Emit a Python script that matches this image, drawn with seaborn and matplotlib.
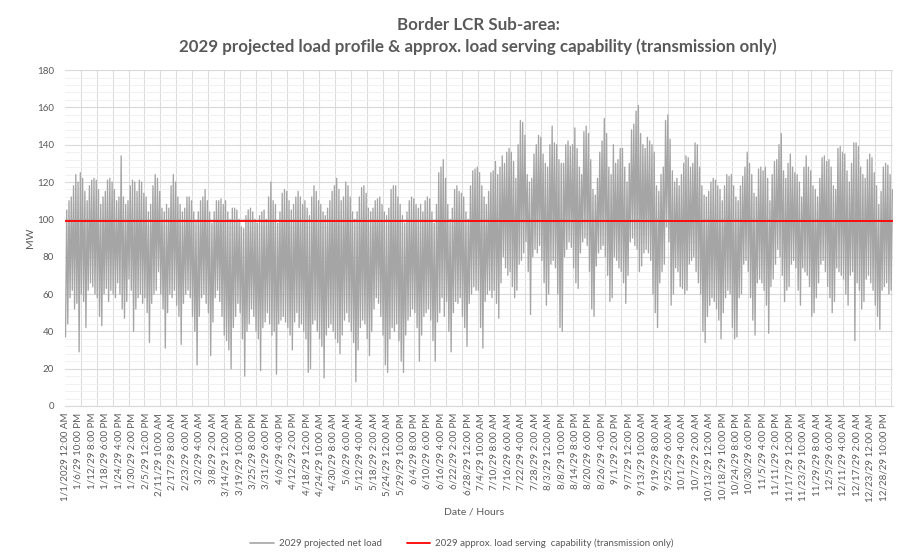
import pandas as pd
import seaborn as sns
import matplotlib.pyplot as plt
from matplotlib.ticker import MultipleLocator
from matplotlib.lines import Line2D

# daily low / high of the 2029 net load (MW), day 1 .. day 365
daily_low = [
    37, 44, 58, 62, 52, 55, 29, 60, 56, 42, 62, 66, 64, 60, 58, 48, 43, 60, 63, 56,
    62, 60, 58, 66, 60, 52, 47, 56, 68, 62, 40, 52, 58, 60, 55,
    58, 50, 34, 55, 60, 62, 72, 60, 52, 31, 50, 60, 58, 62, 54, 48, 33, 55, 60, 62,
    58, 48, 40, 22, 48, 58, 60, 55, 50, 27, 45, 58, 62, 56, 48, 38,
    35, 30, 20, 42, 48, 55, 50, 36, 16, 40, 44, 52, 48, 40, 36, 19, 42, 45, 50, 44,
    38, 40, 17, 44, 46, 48, 45, 42, 38, 30, 45, 50, 42, 44, 40, 36, 18,
    20, 44, 46, 40, 36, 32, 15, 38, 42, 44, 40, 36, 34, 28, 38, 46, 50, 45, 40, 34,
    13, 30, 42, 46, 44, 36, 27, 40, 52, 58, 55, 48, 38, 22, 18, 36, 42,
    40, 44, 35, 24, 18, 38, 46, 48, 52, 50, 42, 24, 38, 48, 50, 52, 46, 35, 24, 45,
    50, 58, 48, 56, 40, 29, 50, 56, 55, 58, 48, 42, 32, 55, 60, 64, 62,
    62, 42, 31, 56, 60, 62, 58, 62, 55, 47, 66, 80, 74, 70, 72, 64, 58, 62, 76, 78,
    82, 88, 72, 49, 80, 84, 82, 86, 78, 66, 54, 60, 76, 78, 74, 60, 42,
    40, 80, 84, 88, 85, 74, 66, 63, 82, 88, 90, 86, 72, 52, 48, 75, 82, 84, 86, 80,
    70, 56, 58, 80, 78, 74, 72, 66, 55, 70, 88, 90, 86, 84, 72, 75, 82,
    84, 82, 78, 60, 50, 42, 66, 72, 76, 96, 88, 54, 60, 74, 72, 64, 63, 60, 62, 76,
    78, 80, 72, 66, 60, 40, 34, 48, 54, 58, 56, 52, 46, 36, 50, 58, 62,
    60, 42, 36, 37, 58, 60, 76, 78, 72, 58, 46, 38, 66, 68, 66, 62, 54, 39, 64, 68,
    76, 84, 80, 70, 56, 62, 64, 76, 78, 74, 62, 54, 74, 72, 70, 64, 48,
    50, 58, 66, 76, 78, 72, 64, 58, 50, 56, 74, 72, 70, 68, 60, 54, 70, 72, 35, 66,
    62, 52, 56, 68, 70, 66, 62, 54, 48, 41, 62, 64, 66, 60, 62,
]
daily_high = [
    105, 110, 112, 118, 124, 120, 125, 122, 115, 110, 118, 121, 122, 121, 116, 108, 112, 115, 121, 122,
    120, 116, 110, 112, 134, 112, 108, 110, 118, 121, 120, 115, 121, 120, 114,
    112, 104, 108, 118, 124, 122, 115, 106, 104, 108, 106, 118, 124, 120, 112, 108, 104, 106, 112, 112,
    110, 104, 99, 104, 110, 112, 116, 110, 104, 98, 104, 110, 110, 111, 108, 110,
    104, 100, 106, 106, 105, 100, 96, 95, 102, 105, 106, 104, 100, 98, 102, 104, 105, 100, 112, 120,
    110, 108, 98, 104, 114, 116, 115, 110, 105, 108, 112, 115, 112, 108, 110, 106, 102,
    112, 118, 115, 110, 108, 104, 102, 106, 110, 115, 118, 122, 116, 110, 112, 120, 118, 112, 104, 100,
    104, 112, 117, 118, 114, 106, 104, 106, 110, 111, 112, 108, 104, 102, 106, 116, 118,
    118, 112, 108, 102, 98, 104, 110, 112, 111, 108, 106, 108, 104, 110, 112, 111, 104, 98, 108, 125,
    128, 132, 122, 108, 100, 106, 116, 118, 115, 114, 112, 104, 100, 118, 126, 127, 128,
    125, 118, 112, 108, 115, 125, 126, 131, 124, 128, 134, 130, 136, 138, 136, 131, 122, 140, 153, 152,
    145, 124, 120, 122, 135, 140, 145, 144, 135, 130, 128, 140, 150, 141, 140, 132, 130,
    130, 140, 142, 139, 140, 149, 138, 128, 124, 147, 150, 146, 132, 116, 113, 122, 136, 142, 154, 146,
    128, 124, 140, 130, 132, 138, 138, 128, 120, 130, 148, 151, 158, 161, 146, 140, 138,
    144, 142, 140, 136, 118, 115, 124, 128, 153, 156, 143, 126, 120, 122, 118, 124, 130, 134, 133, 128,
    130, 141, 140, 128, 118, 113, 112, 115, 120, 122, 121, 118, 116, 110, 118, 124, 123,
    124, 118, 112, 110, 118, 123, 128, 136, 130, 124, 114, 112, 127, 128, 126, 128, 122, 110, 124, 131,
    132, 140, 146, 126, 122, 130, 135, 128, 125, 124, 120, 112, 128, 134, 128, 126, 118,
    116, 112, 122, 133, 134, 131, 132, 128, 118, 116, 138, 139, 136, 135, 126, 120, 130, 141, 141, 139,
    128, 124, 122, 132, 135, 133, 125, 118, 108, 115, 128, 130, 129, 124, 116,
]
capability_mw = 99

tick_labels = [
    "1/1/2029 12:00 AM", "1/6/29 10:00 PM", "1/12/29 8:00 PM", "1/18/29 6:00 PM",
    "1/24/29 4:00 PM", "1/30/29 2:00 PM", "2/5/29 12:00 PM", "2/11/29 10:00 AM",
    "2/17/29 8:00 AM", "2/23/29 6:00 AM", "3/2/29 4:00 AM", "3/8/29 2:00 AM",
    "3/14/29 12:00 AM", "3/19/29 10:00 PM", "3/25/29 8:00 PM", "3/31/29 6:00 PM",
    "4/6/29 4:00 PM", "4/12/29 2:00 PM", "4/18/29 12:00 PM", "4/24/29 10:00 AM",
    "4/30/29 8:00 AM", "5/6/29 6:00 AM", "5/12/29 4:00 AM", "5/18/29 2:00 AM",
    "5/24/29 12:00 AM", "5/29/29 10:00 PM", "6/4/29 8:00 PM", "6/10/29 6:00 PM",
    "6/16/29 4:00 PM", "6/22/29 2:00 PM", "6/28/29 12:00 PM", "7/4/29 10:00 AM",
    "7/10/29 8:00 AM", "7/16/29 6:00 AM", "7/22/29 4:00 AM", "7/28/29 2:00 AM",
    "8/3/29 12:00 AM", "8/8/29 10:00 PM", "8/14/29 8:00 PM", "8/20/29 6:00 PM",
    "8/26/29 4:00 PM", "9/1/29 2:00 PM", "9/7/29 12:00 PM", "9/13/29 10:00 AM",
    "9/19/29 8:00 AM", "9/25/29 6:00 AM", "10/1/29 4:00 AM", "10/7/29 2:00 AM",
    "10/13/29 12:00 AM", "10/18/29 10:00 PM", "10/24/29 8:00 PM", "10/30/29 6:00 PM",
    "11/5/29 4:00 PM", "11/11/29 2:00 PM", "11/17/29 12:00 PM", "11/23/29 10:00 AM",
    "11/29/29 8:00 AM", "12/5/29 6:00 AM", "12/11/29 4:00 AM", "12/17/29 2:00 AM",
    "12/23/29 12:00 AM", "12/28/29 10:00 PM",
]
label_step = 142   # hours between category labels
grid_step = 168    # hours between vertical gridlines
n_hours = 8760

# one low (early morning) and one high (evening) point per day
rows = []
for d, (lo, hi) in enumerate(zip(daily_low, daily_high)):
    rows.append((d * 24 + 5, lo))
    rows.append((d * 24 + 18, hi))
df = pd.DataFrame(rows, columns=["hour", "load"])

sns.set_style("white")
plt.rcParams["font.family"] = ["Lato", "DejaVu Sans"]
txt = "#595959"

fig = plt.figure(figsize=(8.97, 5.56), dpi=100)
ax = fig.add_axes([0.0725, 0.2698, 0.923, 0.6042])

sns.lineplot(data=df, x="hour", y="load", color="#A5A5A5", linewidth=0.95,
             estimator=None, sort=True, ax=ax, zorder=3)
ax.axhline(capability_mw, color="#FF0000", linewidth=1.3, zorder=4)

ax.set_xlim(0, n_hours)
ax.set_ylim(0, 180)
ax.yaxis.set_major_locator(MultipleLocator(20))
ax.yaxis.set_minor_locator(MultipleLocator(4))
ax.set_xticks([i * label_step for i in range(len(tick_labels))])
ax.set_xticklabels(tick_labels, rotation=90, fontsize=7, color=txt)
ax.set_xticks(range(0, n_hours + 1, grid_step), minor=True)
ax.tick_params(axis="x", which="major", length=0, pad=5)
ax.tick_params(axis="x", which="minor", length=4, color="#D9D9D9", width=0.8)
ax.tick_params(axis="y", which="both", length=0, labelsize=7, labelcolor=txt, pad=8)

ax.grid(False)
ax.grid(axis="y", which="major", color="#D9D9D9", linewidth=0.8, zorder=0)
ax.grid(axis="y", which="minor", color="#EFEFEF", linewidth=0.6, zorder=0)
ax.grid(axis="x", which="minor", color="#DDDDDD", linewidth=0.8, zorder=0)
for s in ["top", "right", "left"]:
    ax.spines[s].set_visible(False)
ax.spines["bottom"].set_color("#D9D9D9")
ax.set_xlabel("")
ax.set_ylabel("")

fig.text(0.533, 0.955, "Border LCR Sub-area:", ha="center", va="center",
         fontsize=12.2, fontweight="bold", color=txt)
fig.text(0.533, 0.9155, "2029 projected load profile & approx. load serving capability (transmission only)",
         ha="center", va="center", fontsize=12.2, fontweight="bold", color=txt)
fig.text(0.034, 0.572, "MW", rotation=90, ha="center", va="center", fontsize=7.5, color=txt)
fig.text(0.529, 0.079, "Date / Hours", ha="center", va="center", fontsize=7.5, color=txt)

handles = [Line2D([], [], color="#A5A5A5", linewidth=1.2),
           Line2D([], [], color="#FF0000", linewidth=1.3)]
fig.legend(handles, ["2029 projected net load",
                     "2029 approx. load serving  capability (transmission only)"],
           loc="center", bbox_to_anchor=(0.515, 0.023), ncol=2, frameon=False,
           fontsize=7, labelcolor=txt, handlelength=2.4, handletextpad=0.5,
           columnspacing=2.6)

fig.savefig("out.png", dpi=100)
